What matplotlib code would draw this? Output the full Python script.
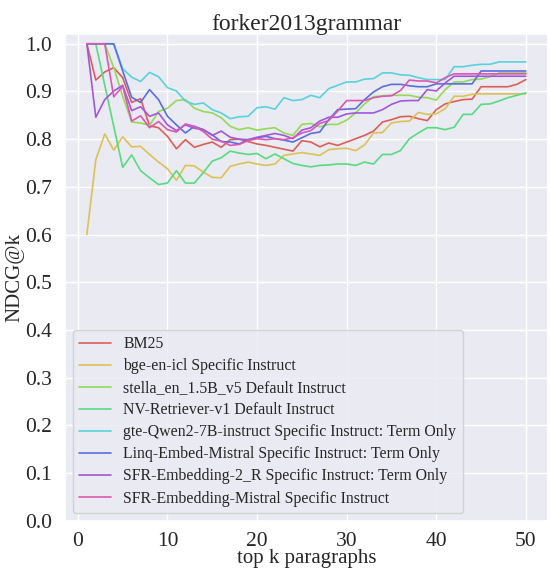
import numpy as np
import matplotlib
matplotlib.use("Agg")
import matplotlib.pyplot as plt
import seaborn as sns

# NDCG@k por modelo, k = 1..50
k = np.arange(1, 51)

bm25 = [1.0, 0.924, 0.941, 0.950, 0.929, 0.877, 0.885, 0.828, 0.824, 0.806,
        0.780, 0.799, 0.783, 0.789, 0.794, 0.783, 0.799, 0.800, 0.795, 0.790,
        0.787, 0.783, 0.779, 0.775, 0.797, 0.794, 0.784, 0.792, 0.787, 0.794,
        0.801, 0.808, 0.817, 0.836, 0.841, 0.847, 0.848, 0.843, 0.839, 0.862,
        0.874, 0.879, 0.883, 0.884, 0.910, 0.910, 0.910, 0.910, 0.915, 0.925]

bge = [0.600, 0.757, 0.811, 0.777, 0.805, 0.784, 0.785, 0.768, 0.752, 0.738,
       0.714, 0.745, 0.744, 0.731, 0.720, 0.719, 0.743, 0.748, 0.752, 0.748,
       0.745, 0.748, 0.766, 0.769, 0.772, 0.769, 0.766, 0.778, 0.780, 0.781,
       0.776, 0.788, 0.813, 0.814, 0.834, 0.837, 0.838, 0.856, 0.852, 0.853,
       0.864, 0.890, 0.890, 0.894, 0.895, 0.895, 0.895, 0.895, 0.895, 0.895]

stella = [1.0, 1.0, 1.0, 0.950, 0.890, 0.836, 0.834, 0.829, 0.858, 0.865,
          0.881, 0.883, 0.865, 0.858, 0.855, 0.845, 0.827, 0.820, 0.824, 0.819,
          0.822, 0.824, 0.813, 0.808, 0.831, 0.833, 0.826, 0.831, 0.831, 0.840,
          0.855, 0.874, 0.889, 0.891, 0.892, 0.892, 0.892, 0.888, 0.887, 0.882,
          0.904, 0.920, 0.920, 0.925, 0.926, 0.931, 0.939, 0.939, 0.939, 0.939]

nv = [1.0, 1.0, 0.913, 0.827, 0.741, 0.767, 0.734, 0.719, 0.705, 0.708,
      0.734, 0.708, 0.708, 0.730, 0.754, 0.761, 0.775, 0.771, 0.768, 0.770,
      0.759, 0.769, 0.759, 0.749, 0.745, 0.742, 0.745, 0.746, 0.748, 0.748,
      0.745, 0.752, 0.748, 0.768, 0.768, 0.776, 0.801, 0.813, 0.824, 0.824,
      0.820, 0.825, 0.852, 0.852, 0.873, 0.874, 0.880, 0.887, 0.892, 0.897]

gte = [1.0, 1.0, 1.0, 1.0, 0.948, 0.930, 0.921, 0.940, 0.931, 0.908,
       0.901, 0.880, 0.873, 0.876, 0.862, 0.855, 0.843, 0.847, 0.848, 0.866,
       0.868, 0.863, 0.887, 0.881, 0.883, 0.892, 0.887, 0.906, 0.913, 0.920,
       0.920, 0.926, 0.927, 0.939, 0.939, 0.935, 0.934, 0.929, 0.925, 0.925,
       0.925, 0.952, 0.952, 0.955, 0.957, 0.957, 0.962, 0.962, 0.962, 0.962]

linq = [1.0, 1.0, 1.0, 1.0, 0.943, 0.888, 0.877, 0.904, 0.883, 0.848,
        0.830, 0.813, 0.827, 0.820, 0.809, 0.795, 0.794, 0.790, 0.799, 0.803,
        0.806, 0.801, 0.798, 0.794, 0.803, 0.812, 0.815, 0.841, 0.862, 0.863,
        0.864, 0.883, 0.899, 0.910, 0.915, 0.915, 0.912, 0.910, 0.910, 0.916,
        0.916, 0.916, 0.916, 0.916, 0.943, 0.943, 0.943, 0.943, 0.943, 0.943]

sfr2r = [1.0, 0.846, 0.883, 0.901, 0.913, 0.860, 0.868, 0.848, 0.855, 0.830,
         0.818, 0.830, 0.823, 0.820, 0.808, 0.817, 0.804, 0.800, 0.799, 0.804,
         0.808, 0.812, 0.808, 0.801, 0.819, 0.824, 0.838, 0.846, 0.846, 0.853,
         0.855, 0.855, 0.855, 0.862, 0.873, 0.880, 0.881, 0.881, 0.904, 0.901,
         0.918, 0.932, 0.932, 0.932, 0.932, 0.932, 0.932, 0.932, 0.932, 0.932]

sfrMistral = [1.0, 1.0, 1.0, 0.889, 0.911, 0.838, 0.849, 0.824, 0.837, 0.820,
              0.815, 0.832, 0.827, 0.816, 0.800, 0.796, 0.787, 0.789, 0.797, 0.801,
              0.799, 0.801, 0.799, 0.803, 0.813, 0.818, 0.833, 0.839, 0.859, 0.881,
              0.881, 0.881, 0.887, 0.890, 0.891, 0.902, 0.924, 0.922, 0.922, 0.918,
              0.929, 0.937, 0.937, 0.937, 0.937, 0.937, 0.937, 0.937, 0.937, 0.937]

labels = ["BM25",
          "bge-en-icl Specific Instruct",
          "stella_en_1.5B_v5 Default Instruct",
          "NV-Retriever-v1 Default Instruct",
          "gte-Qwen2-7B-instruct Specific Instruct: Term Only",
          "Linq-Embed-Mistral Specific Instruct: Term Only",
          "SFR-Embedding-2_R Specific Instruct: Term Only",
          "SFR-Embedding-Mistral Specific Instruct"]
series = [bm25, bge, stella, nv, gte, linq, sfr2r, sfrMistral]

sns.set_theme(style="darkgrid")
plt.rcParams['font.family'] = ['Liberation Serif', 'DejaVu Serif']

colors = sns.color_palette("hls", len(series))

fig, ax = plt.subplots(figsize=(5.5, 5.71), dpi=100)
fig.subplots_adjust(left=0.118, right=0.996, top=0.940, bottom=0.088)

for vals, lab, c in zip(series, labels, colors):
    ax.plot(k, vals, label=lab, color=c, linewidth=1.2)

ax.set_ylim(bottom=0)
ax.set_yticks(np.arange(0, 1.01, 0.1))
ax.set_title("forker2013grammar", fontsize=17, pad=3)
ax.set_xlabel("top k paragraphs", fontsize=15, labelpad=-1)
ax.set_ylabel("NDCG@k", fontsize=15, labelpad=0)
ax.tick_params(labelsize=15.5)
ax.tick_params(axis="x", pad=2)
ax.legend(loc="lower left", fontsize=11.4, labelspacing=0.38)

plt.savefig("out.png")
